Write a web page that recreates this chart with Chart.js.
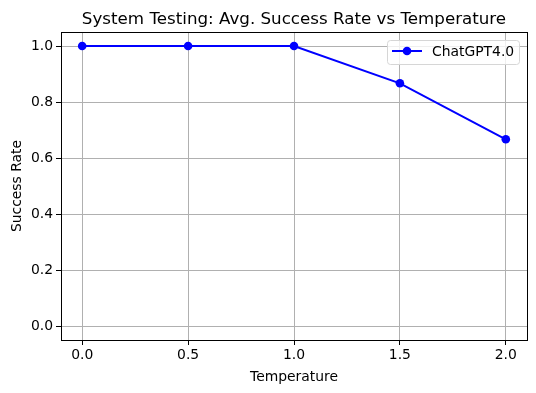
<!DOCTYPE html>
<html>
<head>
<meta charset="utf-8">
<script src="https://cdn.jsdelivr.net/npm/chart.js@4"></script>
<style>
  html, body { margin: 0; padding: 0; background: #fff; }
  #wrap { width: 536px; height: 393px; }
</style>
</head>
<body>
<div id="wrap"><canvas id="chart" width="536" height="393"></canvas></div>
<script>
const temperatures = [0.0, 0.5, 1.0, 1.5, 2.0];
const successRates = [1.0, 1.0, 1.0, 0.8667, 0.6667];
const xTicks = [0.0, 0.5, 1.0, 1.5, 2.0];
const yTicks = [0.0, 0.2, 0.4, 0.6, 0.8, 1.0];
const seriesLabel = 'ChatGPT4.0';
const chartTitle = 'System Testing: Avg. Success Rate vs Temperature';

const FONT = 'DejaVu Sans';

// frame round the axes, title centred over the axes, matplotlib-like legend box
const framePlugin = {
  id: 'frame',
  afterDraw(chart) {
    const ctx = chart.ctx;
    const a = chart.chartArea;
    ctx.save();
    ctx.strokeStyle = '#000';
    ctx.lineWidth = 1;
    ctx.strokeRect(Math.round(a.left) + 0.5, Math.round(a.top) + 0.5,
      Math.round(a.right - a.left), Math.round(a.bottom - a.top));

    ctx.fillStyle = '#000';
    ctx.font = '16.7px ' + FONT;
    ctx.textAlign = 'center';
    ctx.textBaseline = 'alphabetic';
    ctx.fillText(chartTitle, (a.left + a.right) / 2, 24);

    // legend
    const bx = 387, by = 40, bw = 132, bh = 24;
    ctx.fillStyle = 'rgba(255,255,255,0.8)';
    ctx.strokeStyle = '#d6d6d6';
    ctx.beginPath();
    ctx.roundRect(bx + 0.5, by + 0.5, bw, bh, 3);
    ctx.fill();
    ctx.stroke();
    ctx.strokeStyle = '#0000ff';
    ctx.lineWidth = 2;
    ctx.beginPath();
    ctx.moveTo(392, 51);
    ctx.lineTo(422, 51);
    ctx.stroke();
    ctx.fillStyle = '#0000ff';
    ctx.beginPath();
    ctx.arc(407, 51, 4.3, 0, Math.PI * 2);
    ctx.fill();
    ctx.fillStyle = '#000';
    ctx.font = '13.9px ' + FONT;
    ctx.textAlign = 'left';
    ctx.textBaseline = 'middle';
    ctx.fillText(seriesLabel, 432, 52);
    ctx.restore();
  }
};

new Chart(document.getElementById('chart'), {
  type: 'line',
  data: {
    datasets: [{
      label: seriesLabel,
      data: temperatures.map((t, i) => ({ x: t, y: successRates[i] })),
      borderColor: '#0000ff',
      backgroundColor: '#0000ff',
      borderWidth: 2,
      pointRadius: 4.3,
      pointBorderWidth: 0,
      pointHoverRadius: 4.3,
      tension: 0
    }]
  },
  options: {
    responsive: false,
    animation: false,
    layout: { padding: { left: 0, right: 9, top: 32, bottom: 0 } },
    plugins: {
      legend: { display: false },
      tooltip: { enabled: false },
      title: { display: false }
    },
    scales: {
      x: {
        type: 'linear',
        min: -0.1,
        max: 2.1,
        afterBuildTicks: s => { s.ticks = xTicks.map(v => ({ value: v })); },
        afterFit: s => { s.height = 53; },
        grid: { color: '#b0b0b0', lineWidth: 1, tickColor: '#000', tickLength: 5, drawOnChartArea: true },
        border: { display: false },
        ticks: {
          color: '#000',
          font: { family: FONT, size: 13.9 },
          padding: 2,
          maxRotation: 0,
          callback: v => v.toFixed(1)
        },
        title: {
          display: true,
          text: 'Temperature',
          color: '#000',
          font: { family: FONT, size: 13.9 },
          padding: { top: 2, bottom: 7 }
        }
      },
      y: {
        min: -0.05,
        max: 1.05,
        afterBuildTicks: s => { s.ticks = yTicks.map(v => ({ value: v })); },
        afterFit: s => { s.width = 61; },
        grid: { color: '#b0b0b0', lineWidth: 1, tickColor: '#000', tickLength: 5 },
        border: { display: false },
        ticks: {
          color: '#000',
          font: { family: FONT, size: 13.9 },
          padding: 3,
          callback: v => v.toFixed(1)
        },
        title: {
          display: true,
          text: 'Success Rate',
          color: '#000',
          font: { family: FONT, size: 13.9 },
          padding: { top: 9, bottom: 0 }
        }
      }
    }
  },
  plugins: [framePlugin]
});
</script>
</body>
</html>
